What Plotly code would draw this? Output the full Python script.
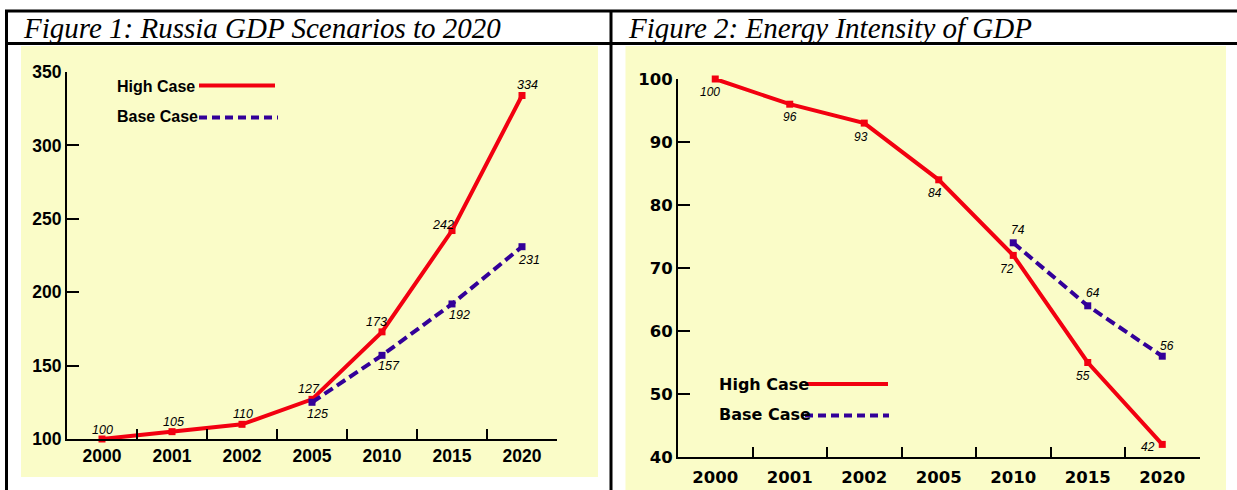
import plotly.graph_objects as go

W, H = 1237, 490

# ---------------- data ----------------
years = ["2000", "2001", "2002", "2005", "2010", "2015", "2020"]
gdp_high = [100, 105, 110, 127, 173, 242, 334]
gdp_base_years = ["2005", "2010", "2015", "2020"]
gdp_base = [125, 157, 192, 231]
ei_high = [100, 96, 93, 84, 72, 55, 42]
ei_base_years = ["2010", "2015", "2020"]
ei_base = [74, 64, 56]
gdp_ticks = [100, 150, 200, 250, 300, 350]
ei_ticks = [40, 50, 60, 70, 80, 90, 100]
titles = ["Figure 1: Russia GDP Scenarios to 2020", "Figure 2: Energy Intensity of GDP"]
series_names = ["High Case", "Base Case"]

# ---------------- style ----------------
RED = "#F20010"
PURPLE = "#330099"
YELLOW = "#FAFCC8"
DASH = "10px,5px"

# label offsets (xshift, yshift) in px
gdp_high_off = [(0, 9), (1, 10), (1, 10), (-3, 10), (-6, 10), (-9, 6), (5, 10)]
gdp_base_off = [(5, -12), (7, -11), (7, -11), (7, -13)]
ei_high_off = [(-5, -13), (0, -13), (-3, -14), (-4, -13), (-6, -14), (-5, -13), (-14, -3)]
ei_base_off = [(5, 13), (5, 13), (5, 10)]


def px(x):
    return x / W


def py(y):
    return 1 - y / H


fig = go.Figure()

fig.add_trace(go.Scatter(x=years, y=gdp_high, mode="lines+markers", xaxis="x", yaxis="y",
                         line=dict(color=RED, width=4), marker=dict(symbol="square", size=7, color=RED),
                         cliponaxis=False, name=series_names[0]))
fig.add_trace(go.Scatter(x=gdp_base_years, y=gdp_base, mode="lines+markers", xaxis="x", yaxis="y",
                         line=dict(color=PURPLE, width=4, dash=DASH),
                         marker=dict(symbol="square", size=7, color=PURPLE),
                         cliponaxis=False, name=series_names[1]))
fig.add_trace(go.Scatter(x=years, y=ei_high, mode="lines+markers", xaxis="x2", yaxis="y2",
                         line=dict(color=RED, width=4), marker=dict(symbol="square", size=7, color=RED),
                         cliponaxis=False, name=series_names[0]))
fig.add_trace(go.Scatter(x=ei_base_years, y=ei_base, mode="lines+markers", xaxis="x2", yaxis="y2",
                         line=dict(color=PURPLE, width=4, dash=DASH),
                         marker=dict(symbol="square", size=7, color=PURPLE),
                         cliponaxis=False, name=series_names[1]))

annotations = []
lab1 = dict(family="Liberation Sans, Arial", size=12.5, color="black", style="italic")
lab2 = dict(family="Liberation Sans, Arial", size=12, color="black", style="italic")


def add_labels(xs, ys, offs, xref, yref, font):
    for xv, yv, (dx, dy) in zip(xs, ys, offs):
        annotations.append(dict(x=years.index(xv), y=yv, xref=xref, yref=yref, text=str(yv), showarrow=False,
                                xshift=dx, yshift=dy, font=font, xanchor="center", yanchor="middle"))


add_labels(years, gdp_high, gdp_high_off, "x", "y", lab1)
add_labels(gdp_base_years, gdp_base, gdp_base_off, "x", "y", lab1)
add_labels(years, ei_high, ei_high_off, "x2", "y2", lab2)
add_labels(ei_base_years, ei_base, ei_base_off, "x2", "y2", lab2)

title_font = dict(family="Liberation Serif, Times New Roman", size=29, color="black", style="italic")
annotations.append(dict(x=px(21), y=py(27.5), xref="paper", yref="paper", text=titles[0], showarrow=False,
                        xanchor="left", yanchor="middle", font=title_font))
annotations.append(dict(x=px(626), y=py(27.5), xref="paper", yref="paper", text=titles[1], showarrow=False,
                        xanchor="left", yanchor="middle", font=title_font))

leg1_font = dict(family="Liberation Sans, Arial", size=16, color="black", weight="bold")
leg2_font = dict(family="DejaVu Sans", size=16, color="black", weight="bold")
annotations.append(dict(x=px(115), y=py(86), xref="paper", yref="paper", text=series_names[0], showarrow=False,
                        xanchor="left", yanchor="middle", font=leg1_font))
annotations.append(dict(x=px(115), y=py(117), xref="paper", yref="paper", text=series_names[1], showarrow=False,
                        xanchor="left", yanchor="middle", font=leg1_font))
annotations.append(dict(x=px(717), y=py(384), xref="paper", yref="paper", text=series_names[0], showarrow=False,
                        xanchor="left", yanchor="middle", font=leg2_font))
annotations.append(dict(x=px(717), y=py(414), xref="paper", yref="paper", text=series_names[1], showarrow=False,
                        xanchor="left", yanchor="middle", font=leg2_font))

shapes = []
shapes.append(dict(type="rect", xref="paper", yref="paper", x0=px(21), x1=px(598), y0=py(477), y1=py(46),
                   fillcolor=YELLOW, line=dict(width=0), layer="below"))
shapes.append(dict(type="rect", xref="paper", yref="paper", x0=px(625.5), x1=px(1226), y0=py(490), y1=py(46),
                   fillcolor=YELLOW, line=dict(width=0), layer="below"))
for (x0, y0, x1, y1) in [(5, 11, 1237, 11), (5, 43.5, 1237, 43.5), (6.5, 10, 6.5, 490), (611, 10, 611, 490)]:
    shapes.append(dict(type="line", xref="paper", yref="paper", x0=px(x0), y0=py(y0), x1=px(x1), y1=py(y1),
                       line=dict(color="black", width=3)))
shapes.append(dict(type="line", xref="paper", yref="paper", x0=px(199), x1=px(275), y0=py(85.5), y1=py(85.5),
                   line=dict(color=RED, width=4)))
shapes.append(dict(type="line", xref="paper", yref="paper", x0=px(199), x1=px(278), y0=py(117.5), y1=py(117.5),
                   line=dict(color=PURPLE, width=4, dash="8px,5px")))
shapes.append(dict(type="line", xref="paper", yref="paper", x0=px(805), x1=px(888), y0=py(384), y1=py(384),
                   line=dict(color=RED, width=4)))
shapes.append(dict(type="line", xref="paper", yref="paper", x0=px(805), x1=px(889), y0=py(415.5), y1=py(415.5),
                   line=dict(color=PURPLE, width=4, dash="8px,5px")))

tick1 = dict(family="Liberation Sans, Arial", size=17.5, color="black", weight="bold")
tick2 = dict(family="DejaVu Sans", size=16.5, color="black", weight="bold")

common_x = dict(type="category", categoryorder="array", categoryarray=years, range=[-0.5, 6.5],
                showline=True, linecolor="black", linewidth=2, ticks="inside", tickson="boundaries",
                ticklen=10, tickwidth=2, tickcolor="black", showgrid=False, zeroline=False, fixedrange=True,
                automargin=False)
common_y = dict(showline=True, linecolor="black", linewidth=2, ticks="inside", ticklen=12, tickwidth=2,
                tickcolor="black", showgrid=False, zeroline=False, fixedrange=True, automargin=False)

fig.update_layout(
    width=W, height=H, margin=dict(l=0, r=0, t=0, b=0, pad=0, autoexpand=False),
    paper_bgcolor="white", plot_bgcolor="rgba(0,0,0,0)",
    showlegend=False,
    xaxis=dict(domain=[px(67), px(557)], anchor="y", tickfont=tick1, ticklabelstandoff=0, **common_x),
    yaxis=dict(domain=[py(439), py(72)], anchor="x", range=[100, 350], tickvals=gdp_ticks, tickfont=tick1,
               **common_y),
    xaxis2=dict(domain=[px(678), px(1199.5)], anchor="y2", tickfont=tick2, ticklabelstandoff=4, **common_x),
    yaxis2=dict(domain=[py(457), py(79)], anchor="x2", range=[40, 100], tickvals=ei_ticks, tickfont=tick2,
                **common_y),
    annotations=annotations,
    shapes=shapes,
)

fig.write_html("out.html")
